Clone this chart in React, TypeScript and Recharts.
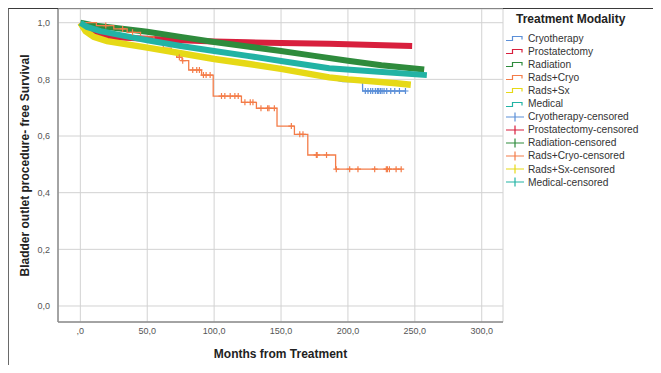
import { ComposedChart, Line, Scatter, XAxis, YAxis, CartesianGrid, Label } from "recharts";

// Kaplan-Meier estimates (months, survival)
const cryoT = [0, 5, 15, 50, 100, 150, 180, 196, 210.9, 211, 243];
const cryoS = [1, 0.975, 0.945, 0.91, 0.868, 0.835, 0.81, 0.792, 0.792, 0.759, 0.759];

const prostT = [0, 3, 8, 15, 30, 50, 75, 100, 125, 150, 186, 220, 248];
const prostS = [1, 0.98, 0.963, 0.953, 0.948, 0.943, 0.938, 0.934, 0.931, 0.928, 0.926, 0.921, 0.918];

const radT = [0, 10, 25, 50, 75, 100, 125, 150, 175, 200, 225, 257];
const radS = [1, 0.99, 0.982, 0.968, 0.95, 0.932, 0.916, 0.9, 0.883, 0.866, 0.85, 0.835];

const rcT = [0, 12, 25, 35, 45, 55, 62, 68, 72, 76, 81, 90.6, 99.3, 120.4, 131.6, 147, 160, 170, 190.8, 240];
const rcS = [1, 0.99, 0.978, 0.966, 0.95, 0.93, 0.91, 0.89, 0.878, 0.866, 0.833, 0.815, 0.741, 0.719, 0.698, 0.635, 0.606, 0.533, 0.483, 0.483];

const sxT = [0, 4, 10, 20, 50, 75, 100, 125, 150, 186, 200, 236, 247];
const sxS = [1, 0.97, 0.95, 0.935, 0.912, 0.892, 0.872, 0.855, 0.837, 0.807, 0.8, 0.786, 0.781];

const medT = [0, 5, 15, 30, 50, 75, 100, 125, 150, 186, 223, 259];
const medS = [1, 0.985, 0.97, 0.956, 0.938, 0.918, 0.9, 0.883, 0.865, 0.839, 0.827, 0.815];

// censored observations that stand out from the dense bands
const cryoCensT = [213, 215, 217, 218.5, 220.5, 222, 223, 224.3, 225.5, 227, 229, 232, 235, 238.5, 243];
const rcCensT = [19, 31.6, 39, 74, 76.5, 84, 87, 89, 92, 94, 97, 105.5, 108, 112, 115.5, 118, 123, 127, 129, 135, 140, 141, 145, 157.7, 164, 166.4, 176.4, 177, 184, 191.3, 201.3, 207.5, 220, 228.7, 229.5, 231, 236, 239.8];

const xTicks = [0, 50, 100, 150, 200, 250, 300];
const yTicks = [0, 0.2, 0.4, 0.6, 0.8, 1];

const pairs = (t: number[], s: number[]) => t.map((v, i) => ({ t: v, s: s[i] }));

// survival at time t for a step curve
const stepAt = (t: number[], s: number[], x: number) => {
  let v = s[0];
  for (let i = 0; i < t.length; i++) if (t[i] <= x) v = s[i];
  return v;
};
const linAt = (t: number[], s: number[], x: number) => {
  for (let i = 1; i < t.length; i++) {
    if (x <= t[i]) {
      const f = (x - t[i - 1]) / (t[i] - t[i - 1]);
      return s[i - 1] + f * (s[i] - s[i - 1]);
    }
  }
  return s[s.length - 1];
};

const series = [
  { name: "Cryotherapy", color: "#5b8fd8", t: cryoT, s: cryoS, w: 1.3, type: "linear" },
  { name: "Prostatectomy", color: "#d81f3d", t: prostT, s: prostS, w: 6, type: "linear" },
  { name: "Radiation", color: "#2e8b3c", t: radT, s: radS, w: 6, type: "linear" },
  { name: "Rads+Cryo", color: "#f47c48", t: rcT, s: rcS, w: 1.3, type: "stepAfter" },
  { name: "Rads+Sx", color: "#e6d916", t: sxT, s: sxS, w: 6.5, type: "linear" },
  { name: "Medical", color: "#22b3a4", t: medT, s: medS, w: 6, type: "linear" },
];

const cryoCens = cryoCensT.map((t) => ({ t, s: linAt(cryoT, cryoS, t) }));
const rcCens = rcCensT.map((t) => ({ t, s: stepAt(rcT, rcS, t) }));

const fmt = (v: number) => (v === 0 ? ",0" : v.toFixed(1).replace(".", ","));
const fmtY = (v: number) => v.toFixed(1).replace(".", ",");

const plus = (color: string) => (p: any) => (
  <path
    d={`M${p.cx - 3},${p.cy}h6M${p.cx},${p.cy - 3}v6`}
    stroke={color}
    strokeWidth={1.2}
    fill="none"
  />
);

const font = '"Liberation Sans", Arial, sans-serif';

function StepIcon({ color }: { color: string }) {
  return (
    <svg width={20} height={10} style={{ display: "block" }}>
      <path d="M1,7.5H7.5V3.5H17V6.5" stroke={color} strokeWidth={1.2} fill="none" />
    </svg>
  );
}
function PlusIcon({ color }: { color: string }) {
  return (
    <svg width={20} height={10} style={{ display: "block" }}>
      <path d="M1,5H19M10,0.5V9.5" stroke={color} strokeWidth={1.2} fill="none" />
    </svg>
  );
}

export default function App() {
  const rows = [
    ...series.map((d) => ({ label: d.name, color: d.color, step: true })),
    ...series.map((d) => ({ label: d.name + "-censored", color: d.color, step: false })),
  ];
  return (
    <div style={{ position: "relative", width: 661, height: 373, margin: -8, background: "#fff", fontFamily: font, overflow: "hidden" }}>
      <div style={{ position: "absolute", left: 7, top: 7, width: 660, height: 370, borderTop: "2px solid #3a3a3a", borderLeft: "2px solid #6a6a6a" }} />
      <ComposedChart width={661} height={373} margin={{ top: 9, right: 158, bottom: 21, left: 18 }}>
        <CartesianGrid stroke="#d2d2d2" strokeWidth={1} />
        <XAxis
          type="number"
          dataKey="t"
          domain={[-16.7, 315.9]}
          ticks={xTicks}
          tickFormatter={fmt}
          allowDataOverflow
          height={30}
          tickLine={false}
          tickSize={4}
          tickMargin={2}
          stroke="#8c8c8c"
          strokeWidth={1.5}
          tick={{ fill: "#555", fontSize: 9, fontFamily: font }}
        >
          <Label
            content={(p: any) => (
              <text
                x={p.viewBox.x + p.viewBox.width / 2}
                y={p.viewBox.y + p.viewBox.height + 2}
                textAnchor="middle"
                dominantBaseline="central"
                fontSize={12}
                fontWeight="bold"
                fill="#222"
                fontFamily={font}
              >
                Months from Treatment
              </text>
            )}
          />
        </XAxis>
        <YAxis
          type="number"
          domain={[-0.0565, 1.0484]}
          ticks={yTicks}
          tickFormatter={fmtY}
          allowDataOverflow
          width={40}
          tickLine={false}
          stroke="#8c8c8c"
          strokeWidth={1.5}
          tick={{ fill: "#555", fontSize: 9, fontFamily: font }}
        >
          <Label
            content={(p: any) => {
              const cx = 25;
              const cy = p.viewBox.y + p.viewBox.height / 2;
              return (
                <text
                  x={cx}
                  y={cy}
                  transform={`rotate(-90 ${cx} ${cy})`}
                  textAnchor="middle"
                  dominantBaseline="central"
                  fontSize={12}
                  fontWeight="bold"
                  fill="#222"
                  fontFamily={font}
                >
                  Bladder outlet procedure- free Survival
                </text>
              );
            }}
          />
        </YAxis>
        {series.map((d) => (
          <Line
            key={d.name}
            data={pairs(d.t, d.s)}
            dataKey="s"
            name={d.name}
            type={d.type as any}
            stroke={d.color}
            strokeWidth={d.w}
            dot={false}
            activeDot={false}
            isAnimationActive={false}
          />
        ))}
        <Scatter data={cryoCens} dataKey="s" shape={plus("#5b8fd8")} isAnimationActive={false} />
        <Scatter data={rcCens} dataKey="s" shape={plus("#f47c48")} isAnimationActive={false} />
      </ComposedChart>
      <div style={{ position: "absolute", left: 516, top: 11, fontSize: 12, fontWeight: "bold", color: "#222", lineHeight: "16px", whiteSpace: "nowrap" }}>
        Treatment Modality
      </div>
      {rows.map((r, i) => (
        <div
          key={r.label}
          style={{ position: "absolute", left: 505, top: 31.5 + i * 13.1, height: 13, display: "flex", alignItems: "center", whiteSpace: "nowrap" }}
        >
          {r.step ? <StepIcon color={r.color} /> : <PlusIcon color={r.color} />}
          <span style={{ marginLeft: 3, fontSize: 10.2, color: "#333", lineHeight: "13px" }}>{r.label}</span>
        </div>
      ))}
    </div>
  );
}
